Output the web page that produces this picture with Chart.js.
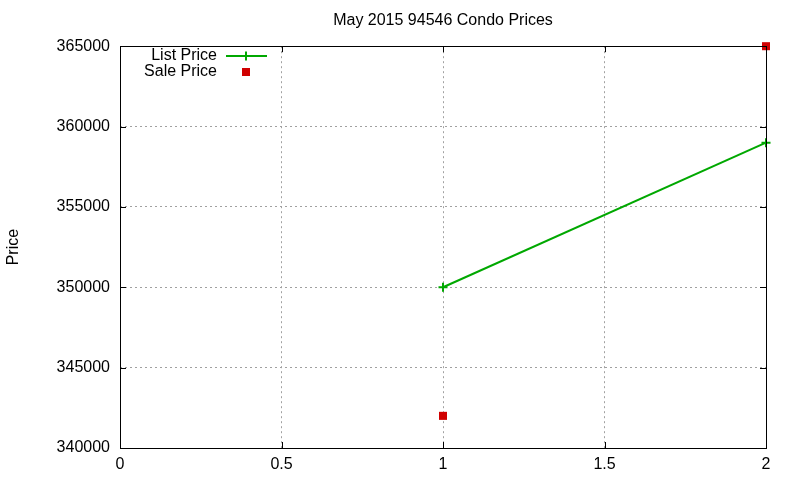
<!DOCTYPE html>
<html>
<head>
<meta charset="utf-8">
<script src="https://cdn.jsdelivr.net/npm/chart.js@4/dist/chart.umd.min.js"></script>
<style>
  html, body { margin: 0; padding: 0; background: #fff; }
  #wrap { width: 800px; height: 480px; }
</style>
</head>
<body>
<div id="wrap"><canvas id="chart" width="800" height="480"></canvas></div>
<script>
  'use strict';

  const titleText = 'May 2015 94546 Condo Prices';
  const xValues = [1, 2];
  const listPrices = [350000, 359000];
  const salePrices = [342000, 365000];
  const xTicks = [0, 0.5, 1, 1.5, 2];
  const yTicks = [340000, 345000, 350000, 355000, 360000, 365000];

  const GREEN = '#00a800';
  const RED = '#d00000';
  const FONT = 'Liberation Sans, Arial, sans-serif';

  const toPoints = (ys) => xValues.map((x, i) => ({ x: x, y: ys[i] }));

  // box + inward ticks like gnuplot
  const frame = {
    id: 'frame',
    afterDatasetsDraw(chart) {
      const { ctx, chartArea: a, scales } = chart;
      ctx.save();
      ctx.strokeStyle = '#000';
      ctx.lineWidth = 1;
      ctx.beginPath();
      const len = 6;
      xTicks.forEach((v) => {
        const px = Math.round(scales.x.getPixelForValue(v)) + 0.5;
        ctx.moveTo(px, a.bottom); ctx.lineTo(px, a.bottom - len);
        ctx.moveTo(px, a.top); ctx.lineTo(px, a.top + len);
      });
      yTicks.forEach((v) => {
        const py = Math.round(scales.y.getPixelForValue(v)) + 0.5;
        ctx.moveTo(a.left, py); ctx.lineTo(a.left + len, py);
        ctx.moveTo(a.right, py); ctx.lineTo(a.right - len, py);
      });
      ctx.stroke();
      ctx.strokeRect(Math.round(a.left) + 0.5, Math.round(a.top) + 0.5,
        Math.round(a.right - a.left), Math.round(a.bottom - a.top));
      ctx.restore();
    },
    afterDraw(chart) {
      // gnuplot-style key, text right aligned then sample
      const { ctx } = chart;
      const ds = chart.data.datasets;
      ctx.save();
      ctx.font = '16px ' + FONT;
      ctx.textAlign = 'right';
      ctx.textBaseline = 'middle';
      ctx.fillStyle = '#000';
      const textRight = 217, sampleX = 246;
      ds.forEach((d, i) => {
        const y = 56 + i * 16;
        ctx.fillText(d.label, textRight, y);
        if (d.showLine !== false) {
          ctx.strokeStyle = d.borderColor;
          ctx.lineWidth = 2;
          ctx.beginPath();
          ctx.moveTo(226, y); ctx.lineTo(267, y);
          ctx.moveTo(sampleX, y - 4.5); ctx.lineTo(sampleX, y + 4.5);
          ctx.stroke();
        } else {
          ctx.fillStyle = d.backgroundColor;
          ctx.fillRect(sampleX - 4, y - 4, 8, 8);
          ctx.fillStyle = '#000';
        }
      });
      ctx.restore();
    }
  };

  new Chart(document.getElementById('chart').getContext('2d'), {
    type: 'scatter',
    data: {
      datasets: [
        {
          label: 'List Price',
          data: toPoints(listPrices),
          showLine: true,
          borderColor: GREEN,
          backgroundColor: GREEN,
          borderWidth: 2,
          pointStyle: 'cross',
          pointRadius: 4.5,
          pointBorderWidth: 2,
          clip: false,
        },
        {
          label: 'Sale Price',
          data: toPoints(salePrices),
          showLine: false,
          borderColor: RED,
          backgroundColor: RED,
          borderWidth: 0,
          pointStyle: 'rect',
          pointRadius: 5.7,
          clip: false,
        },
      ],
    },
    options: {
      responsive: false,
      animation: false,
      devicePixelRatio: 1,
      layout: { padding: { left: 0, right: 34, top: 0, bottom: 0 } },
      plugins: {
        legend: { display: false },
        tooltip: { enabled: false },
        title: {
          display: true,
          text: titleText,
          fullSize: false,
          color: '#000',
          font: { family: FONT, size: 16, weight: 'normal' },
          padding: { top: 11, bottom: 16 },
        },
      },
      scales: {
        x: {
          type: 'linear',
          min: 0,
          max: 2,
          afterBuildTicks: (s) => { s.ticks = xTicks.map((v) => ({ value: v })); },
          afterFit: (s) => { s.height = 32; },
          grid: { color: '#a0a0a0', lineWidth: 1, drawTicks: false, tickLength: 0 },
          border: { display: false, dash: [2, 3] },
          ticks: {
            color: '#000',
            padding: 7,
            maxRotation: 0,
            font: { family: FONT, size: 16 },
            callback: (v) => String(v),
          },
        },
        y: {
          type: 'linear',
          min: 340000,
          max: 365000,
          afterBuildTicks: (s) => { s.ticks = yTicks.map((v) => ({ value: v })); },
          afterFit: (s) => { s.width = 120; },
          grid: { color: '#a0a0a0', lineWidth: 1, drawTicks: false, tickLength: 0 },
          border: { display: false, dash: [2, 3] },
          title: {
            display: true,
            text: 'Price',
            color: '#000',
            font: { family: FONT, size: 16 },
            padding: { top: 4, bottom: 4 },
          },
          ticks: {
            color: '#000',
            padding: 10,
            font: { family: FONT, size: 16 },
            callback: (v) => String(v),
          },
        },
      },
    },
    plugins: [frame],
  });
</script>
</body>
</html>
